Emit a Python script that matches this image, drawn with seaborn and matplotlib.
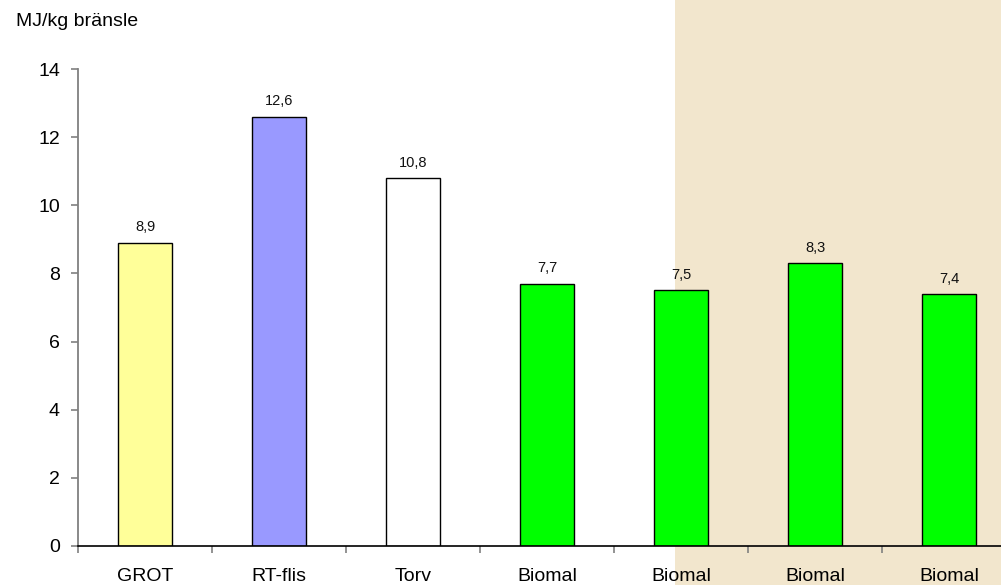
import matplotlib
matplotlib.use("Agg")
import matplotlib.pyplot as plt
from matplotlib.patches import Rectangle
import seaborn as sns
import pandas as pd

# Fuel categories and energy content (MJ per kg fuel)
keys = ["GROT", "RT-flis", "Torv", "Biomal 1", "Biomal 2", "Biomal 3", "Biomal 4"]
tick_labels = ["GROT", "RT-flis", "Torv", "Biomal", "Biomal", "Biomal", "Biomal"]
values = [8.9, 12.6, 10.8, 7.7, 7.5, 8.3, 7.4]
bar_colors = ["#FFFF99", "#9999FF", "#FFFFFF", "#00FF00", "#00FF00", "#00FF00", "#00FF00"]

sns.set_theme(style="white")
plt.rcParams["font.family"] = ["Liberation Sans", "DejaVu Sans"]

W, H = 1001, 585
fig = plt.figure(figsize=(W / 100, H / 100), dpi=100)
fig.patch.set_facecolor("white")

# Shaded background band on the right side of the figure
band_x0 = 675 / W
fig.patches.append(Rectangle((band_x0, 0), 1 - band_x0, 1, transform=fig.transFigure,
                             facecolor="#F2E6CD", edgecolor="none", zorder=-10))

ax_left, ax_right = 78 / W, 1016 / W
ax_bottom, ax_top = (H - 546) / H, (H - 69) / H
ax = fig.add_axes([ax_left, ax_bottom, ax_right - ax_left, ax_top - ax_bottom])
ax.patch.set_alpha(0)

df = pd.DataFrame({"key": keys, "value": values})
sns.barplot(data=df, x="key", y="value", hue="key", palette=dict(zip(keys, bar_colors)),
            order=keys, legend=False, width=0.4, edgecolor="black", linewidth=1.0,
            saturation=1, ax=ax)

for i, v in enumerate(values):
    ax.annotate(f"{v:.1f}".replace(".", ","), (i, v), xytext=(0, 6),
                textcoords="offset points", ha="center", va="bottom",
                fontsize=10.5, color="#111111")

ax.set_xlim(-0.5, len(keys) - 0.5)
ax.set_ylim(0, 14)
ax.set_yticks(range(0, 15, 2))
ax.set_xlabel("")
ax.set_ylabel("")

# Category labels at bar centres, tick marks at category boundaries
ax.set_xticks(range(len(keys)))
ax.set_xticklabels(tick_labels, fontsize=14)
ax.set_xticks([i - 0.5 for i in range(len(keys) + 1)], minor=True)
ax.tick_params(axis="x", which="major", length=0, pad=16, colors="black")
ax.tick_params(axis="x", which="minor", length=5, width=1.2, color="#808080", direction="out")
ax.tick_params(axis="y", which="major", length=5, width=1.2, color="#808080",
               direction="out", pad=8, labelsize=14, labelcolor="black")
ax.tick_params(axis="x", which="major", labelcolor="black")
ax.xaxis.set_ticks_position("bottom")
ax.yaxis.set_ticks_position("left")

for s in ["top", "right"]:
    ax.spines[s].set_visible(False)
ax.spines["left"].set_color("#808080")
ax.spines["left"].set_linewidth(1.3)
ax.spines["bottom"].set_color("black")
ax.spines["bottom"].set_linewidth(1.2)
ax.grid(False)

fig.text(16 / W, 1 - 22 / H, "MJ/kg bränsle", ha="left", va="center", fontsize=14, color="black")

fig.savefig("out.png", dpi=100)
